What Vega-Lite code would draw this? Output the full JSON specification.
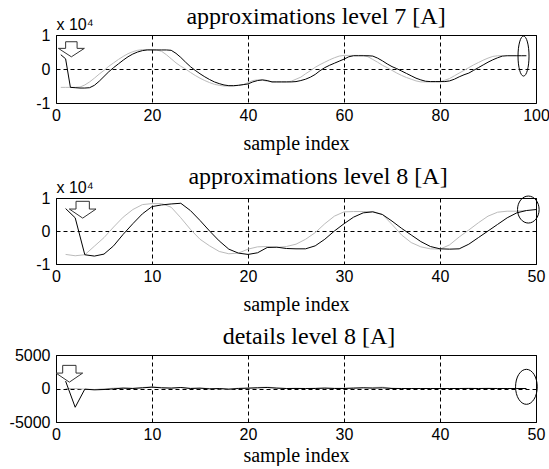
{
  "$schema": "https://vega.github.io/schema/vega-lite/v6.json",
  "background": "white",
  "autosize": {"type": "pad"},
  "padding": {"left": 8, "top": 4, "right": 0, "bottom": 0},
  "bounds": "flush",
  "spacing": 95,
  "config": {
    "view": {"stroke": "black", "strokeWidth": 1},
    "axis": {"domain": false, "ticks": false, "grid": true, "gridColor": "black", "gridDash": [4, 3], "gridOpacity": 1, "gridWidth": 1,
      "labelFont": "Liberation Sans", "labelFontSize": 16, "labelColor": "black",
      "titleFont": "Liberation Serif", "titleFontSize": 20, "titleFontWeight": "normal", "titleColor": "black"},
    "axisX": {"labelFlush": false, "labelPadding": 4, "titlePadding": 10},
    "axisY": {"labelPadding": 6, "titleAngle": 0, "titleAlign": "left", "titleBaseline": "bottom", "titleX": 0, "titleY": -3, "titleFont": "Liberation Sans", "titleFontSize": 16},
    "title": {"font": "Liberation Serif", "fontSize": 24, "fontWeight": "normal", "color": "black", "anchor": "middle"}
  },
  "datasets": {
    "p1_black": [
      {"s":1,"v":4200},{"s":2,"v":3000},{"s":3,"v":-5400},{"s":4,"v":-5500},{"s":5,"v":-5600},{"s":6,"v":-5600},{"s":7,"v":-5500},{"s":8,"v":-4800},{"s":9,"v":-3600},{"s":10,"v":-2200},
      {"s":11,"v":-800},{"s":12,"v":400},{"s":13,"v":1500},{"s":14,"v":2600},{"s":15,"v":3600},{"s":16,"v":4400},{"s":17,"v":5000},{"s":18,"v":5400},{"s":19,"v":5600},{"s":20,"v":5600},
      {"s":21,"v":5600},{"s":22,"v":5600},{"s":23,"v":5600},{"s":24,"v":5500},{"s":25,"v":4600},{"s":26,"v":3400},{"s":27,"v":2000},{"s":28,"v":700},{"s":29,"v":-400},{"s":30,"v":-1400},
      {"s":31,"v":-2300},{"s":32,"v":-3100},{"s":33,"v":-3800},{"s":34,"v":-4300},{"s":35,"v":-4700},{"s":36,"v":-4900},{"s":37,"v":-4900},{"s":38,"v":-4800},{"s":39,"v":-4600},{"s":40,"v":-4400},
      {"s":41,"v":-3800},{"s":42,"v":-3400},{"s":43,"v":-3200},{"s":44,"v":-3400},{"s":45,"v":-3800},{"s":46,"v":-3800},{"s":47,"v":-3800},{"s":48,"v":-3800},{"s":49,"v":-3800},{"s":50,"v":-3700},
      {"s":51,"v":-3400},{"s":52,"v":-3000},{"s":53,"v":-2400},{"s":54,"v":-1600},{"s":55,"v":-500},{"s":56,"v":400},{"s":57,"v":1100},{"s":58,"v":1700},{"s":59,"v":2300},{"s":60,"v":2900},
      {"s":61,"v":3600},{"s":62,"v":3900},{"s":63,"v":3900},{"s":64,"v":3900},{"s":65,"v":3900},{"s":66,"v":3800},{"s":67,"v":3200},{"s":68,"v":2400},{"s":69,"v":1500},{"s":70,"v":700},
      {"s":71,"v":100},{"s":72,"v":-600},{"s":73,"v":-1300},{"s":74,"v":-2000},{"s":75,"v":-2700},{"s":76,"v":-3200},{"s":77,"v":-3600},{"s":78,"v":-3700},{"s":79,"v":-3700},{"s":80,"v":-3700},
      {"s":81,"v":-3700},{"s":82,"v":-3500},{"s":83,"v":-3000},{"s":84,"v":-2300},{"s":85,"v":-1700},{"s":86,"v":-1200},{"s":87,"v":-400},{"s":88,"v":400},{"s":89,"v":1200},{"s":90,"v":2000},
      {"s":91,"v":2700},{"s":92,"v":3300},{"s":93,"v":3800},{"s":94,"v":3900},{"s":95,"v":3900},{"s":96,"v":3900},{"s":97,"v":3900},{"s":98,"v":3900}
    ],
    "p1_gray": [
      {"s":1,"v":-5400},{"s":2,"v":-5400},{"s":3,"v":-5400},{"s":4,"v":-5400},{"s":5,"v":-5300},{"s":6,"v":-4700},{"s":7,"v":-3800},{"s":8,"v":-2700},{"s":9,"v":-1500},{"s":10,"v":-400},
      {"s":11,"v":800},{"s":12,"v":1800},{"s":13,"v":2800},{"s":14,"v":3700},{"s":15,"v":4500},{"s":16,"v":5100},{"s":17,"v":5500},{"s":18,"v":5700},{"s":19,"v":5700},{"s":20,"v":5700},
      {"s":21,"v":5600},{"s":22,"v":5200},{"s":23,"v":4200},{"s":24,"v":3000},{"s":25,"v":1800},{"s":26,"v":800},{"s":27,"v":0},{"s":28,"v":-1000},{"s":29,"v":-1900},{"s":30,"v":-2700},
      {"s":31,"v":-3400},{"s":32,"v":-4000},{"s":33,"v":-4500},{"s":34,"v":-4800},{"s":35,"v":-5000},{"s":36,"v":-5000},{"s":37,"v":-5000},{"s":38,"v":-4800},{"s":39,"v":-4600},{"s":40,"v":-4000},
      {"s":41,"v":-3400},{"s":42,"v":-3200},{"s":43,"v":-3300},{"s":44,"v":-3600},{"s":45,"v":-3800},{"s":46,"v":-3800},{"s":47,"v":-3800},{"s":48,"v":-3800},{"s":49,"v":-3600},{"s":50,"v":-3000},
      {"s":51,"v":-2400},{"s":52,"v":-1400},{"s":53,"v":-500},{"s":54,"v":500},{"s":55,"v":1300},{"s":56,"v":2000},{"s":57,"v":2700},{"s":58,"v":3300},{"s":59,"v":3800},{"s":60,"v":4000},
      {"s":61,"v":4000},{"s":62,"v":4000},{"s":63,"v":4000},{"s":64,"v":4000},{"s":65,"v":3600},{"s":66,"v":2800},{"s":67,"v":2000},{"s":68,"v":1100},{"s":69,"v":400},{"s":70,"v":-400},
      {"s":71,"v":-1200},{"s":72,"v":-1900},{"s":73,"v":-2500},{"s":74,"v":-3000},{"s":75,"v":-3500},{"s":76,"v":-3800},{"s":77,"v":-3800},{"s":78,"v":-3800},{"s":79,"v":-3800},{"s":80,"v":-3800},
      {"s":81,"v":-3300},{"s":82,"v":-2800},{"s":83,"v":-2000},{"s":84,"v":-1200},{"s":85,"v":-400},{"s":86,"v":400},{"s":87,"v":1200},{"s":88,"v":1900},{"s":89,"v":2600},{"s":90,"v":3200},
      {"s":91,"v":3700},{"s":92,"v":3900},{"s":93,"v":3900}
    ],
    "p2_black": [
      {"s":1,"v":6800},{"s":2,"v":4000},{"s":3,"v":-7200},{"s":4,"v":-7600},{"s":5,"v":-7000},{"s":6,"v":-4500},{"s":7,"v":-1000},{"s":8,"v":2200},{"s":9,"v":5200},{"s":10,"v":7400},
      {"s":11,"v":7900},{"s":12,"v":8200},{"s":13,"v":8400},{"s":14,"v":6200},{"s":15,"v":3200},{"s":16,"v":0},{"s":17,"v":-3000},{"s":18,"v":-5500},{"s":19,"v":-6700},{"s":20,"v":-7100},
      {"s":21,"v":-6600},{"s":22,"v":-5000},{"s":23,"v":-4900},{"s":24,"v":-5300},{"s":25,"v":-5400},{"s":26,"v":-5400},{"s":27,"v":-4500},{"s":28,"v":-2500},{"s":29,"v":0},{"s":30,"v":2200},
      {"s":31,"v":4200},{"s":32,"v":5500},{"s":33,"v":5800},{"s":34,"v":5000},{"s":35,"v":3000},{"s":36,"v":800},{"s":37,"v":-1200},{"s":38,"v":-3200},{"s":39,"v":-4700},{"s":40,"v":-5400},
      {"s":41,"v":-5500},{"s":42,"v":-5400},{"s":43,"v":-4000},{"s":44,"v":-2000},{"s":45,"v":0},{"s":46,"v":2000},{"s":47,"v":4000},{"s":48,"v":5500},{"s":49,"v":6200},{"s":50,"v":6500}
    ],
    "p2_gray": [
      {"s":1,"v":-7100},{"s":2,"v":-7500},{"s":3,"v":-7200},{"s":4,"v":-4600},{"s":5,"v":-2000},{"s":6,"v":1200},{"s":7,"v":4200},{"s":8,"v":6500},{"s":9,"v":8000},{"s":10,"v":8300},
      {"s":11,"v":8300},{"s":12,"v":7200},{"s":13,"v":4000},{"s":14,"v":500},{"s":15,"v":-2500},{"s":16,"v":-4500},{"s":17,"v":-6200},{"s":18,"v":-6900},{"s":19,"v":-6700},{"s":20,"v":-5500},
      {"s":21,"v":-4800},{"s":22,"v":-4700},{"s":23,"v":-5000},{"s":24,"v":-4700},{"s":25,"v":-4000},{"s":26,"v":-2500},{"s":27,"v":-500},{"s":28,"v":2200},{"s":29,"v":4500},{"s":30,"v":5800},
      {"s":31,"v":5900},{"s":32,"v":5900},{"s":33,"v":5900},{"s":34,"v":5000},{"s":35,"v":2000},{"s":36,"v":-1200},{"s":37,"v":-3500},{"s":38,"v":-4800},{"s":39,"v":-5400},{"s":40,"v":-5500},
      {"s":41,"v":-4200},{"s":42,"v":-1800},{"s":43,"v":300},{"s":44,"v":2500},{"s":45,"v":4500},{"s":46,"v":5700},{"s":47,"v":6000},{"s":48,"v":6000},{"s":49,"v":6200}
    ],
    "p3_black": [
      {"s":1,"v":1100},{"s":2,"v":-2800},{"s":3,"v":-100},{"s":4,"v":-200},{"s":5,"v":-150},{"s":6,"v":-50},{"s":7,"v":50},{"s":8,"v":0},{"s":9,"v":100},{"s":10,"v":200},
      {"s":11,"v":100},{"s":12,"v":50},{"s":13,"v":150},{"s":14,"v":0},{"s":15,"v":50},{"s":16,"v":-50},{"s":17,"v":0},{"s":18,"v":-100},{"s":19,"v":0},{"s":20,"v":50},
      {"s":21,"v":100},{"s":22,"v":150},{"s":23,"v":50},{"s":24,"v":0},{"s":25,"v":0},{"s":26,"v":0},{"s":27,"v":0},{"s":28,"v":50},{"s":29,"v":0},{"s":30,"v":0},
      {"s":31,"v":50},{"s":32,"v":100},{"s":33,"v":50},{"s":34,"v":100},{"s":35,"v":0},{"s":36,"v":0},{"s":37,"v":0},{"s":38,"v":0},{"s":39,"v":0},{"s":40,"v":0},
      {"s":41,"v":0},{"s":42,"v":0},{"s":43,"v":0},{"s":44,"v":0},{"s":45,"v":0},{"s":46,"v":0},{"s":47,"v":0},{"s":48,"v":0},{"s":49,"v":0}
    ],
    "p3_gray": [
      {"s":1,"v":0},{"s":2,"v":0},{"s":3,"v":-100},{"s":4,"v":-150},{"s":5,"v":-50},{"s":6,"v":50},{"s":7,"v":100},{"s":8,"v":50},{"s":9,"v":150},{"s":10,"v":250},
      {"s":11,"v":150},{"s":12,"v":100},{"s":13,"v":150},{"s":14,"v":50},{"s":15,"v":50},{"s":16,"v":0},{"s":17,"v":-50},{"s":18,"v":-100},{"s":19,"v":50},{"s":20,"v":50},
      {"s":21,"v":150},{"s":22,"v":200},{"s":23,"v":100},{"s":24,"v":0},{"s":25,"v":50},{"s":26,"v":0},{"s":27,"v":50},{"s":28,"v":100},{"s":29,"v":50},{"s":30,"v":50},
      {"s":31,"v":100},{"s":32,"v":150},{"s":33,"v":150},{"s":34,"v":200},{"s":35,"v":50},{"s":36,"v":0},{"s":37,"v":0},{"s":38,"v":0},{"s":39,"v":0},{"s":40,"v":0},
      {"s":41,"v":0},{"s":42,"v":0},{"s":43,"v":50},{"s":44,"v":0},{"s":45,"v":50},{"s":46,"v":0},{"s":47,"v":0},{"s":48,"v":0},{"s":49,"v":0}
    ]
  },
  "vconcat": [
    {
      "width": 480, "height": 68,
      "title": {"text": "approximations level 7 [A]", "dx": 20, "offset": -13},
      "encoding": {
        "x": {"field": "s", "type": "quantitative", "scale": {"domain": [0, 100], "nice": false, "zero": false},
          "axis": {"values": [0, 20, 40, 60, 80, 100], "title": "sample index"}},
        "y": {"field": "v", "type": "quantitative", "scale": {"domain": [-10000, 10000], "nice": false},
          "axis": {"values": [-10000, 0, 10000], "labelExpr": "'' + (datum.value / 10000)", "title": "x 10⁴"}}
      },
      "layer": [
        {"data": {"name": "p1_gray"}, "mark": {"type": "line", "color": "#bbbbbb", "strokeWidth": 1}},
        {"data": {"name": "p1_black"}, "mark": {"type": "line", "color": "#000000", "strokeWidth": 1}},
        {"data": {"values": [{"s": 97.4, "v": 3800}]},
          "mark": {"type": "point", "shape": "M0,-1A0.275,1,0,1,1,0,1A0.275,1,0,1,1,0,-1Z", "size": 1600, "filled": false, "stroke": "black", "strokeWidth": 1, "opacity": 1}},
        {"data": {"values": [{"s": 3.2, "v": 5800}]},
          "mark": {"type": "point", "shape": "M-0.44,-0.58L0.44,-0.58L0.44,-0.07L1,-0.07L0,0.58L-1,-0.07L-0.44,-0.07Z", "size": 676, "filled": true, "fill": "white", "fillOpacity": 1, "stroke": "#333333", "strokeWidth": 1, "opacity": 1}}
      ]
    },
    {
      "spacing": 91,
      "bounds": "flush",
      "vconcat": [
        {
          "width": 480, "height": 66,
          "title": {"text": "approximations level 8 [A]", "dx": 22, "offset": -10},
          "encoding": {
            "x": {"field": "s", "type": "quantitative", "scale": {"domain": [0, 50], "nice": false, "zero": false},
              "axis": {"values": [0, 10, 20, 30, 40, 50], "title": "sample index"}},
            "y": {"field": "v", "type": "quantitative", "scale": {"domain": [-10000, 10000], "nice": false},
              "axis": {"values": [-10000, 0, 10000], "labelExpr": "'' + (datum.value / 10000)", "title": "x 10⁴"}}
          },
          "layer": [
            {"data": {"name": "p2_gray"}, "mark": {"type": "line", "color": "#bbbbbb", "strokeWidth": 1}},
            {"data": {"name": "p2_black"}, "mark": {"type": "line", "color": "#000000", "strokeWidth": 1}},
            {"data": {"values": [{"s": 49.2, "v": 6500}]},
              "mark": {"type": "point", "shape": "M0,-1A0.8,1,0,1,1,0,1A0.8,1,0,1,1,0,-1Z", "size": 729, "filled": false, "stroke": "black", "strokeWidth": 1, "opacity": 1}},
            {"data": {"values": [{"s": 2.78, "v": 6450}]},
              "mark": {"type": "point", "shape": "M-0.5,-0.63L0.5,-0.63L0.5,-0.05L1,-0.05L0,0.63L-1,-0.05L-0.5,-0.05Z", "size": 711, "filled": true, "fill": "white", "fillOpacity": 1, "stroke": "#333333", "strokeWidth": 1, "opacity": 1}}
          ]
        },
        {
          "width": 480, "height": 67,
          "title": {"text": "details level 8 [A]", "dx": 13, "offset": -2},
          "encoding": {
            "x": {"field": "s", "type": "quantitative", "scale": {"domain": [0, 50], "nice": false, "zero": false},
              "axis": {"values": [0, 10, 20, 30, 40, 50], "title": "sample index", "titlePadding": 3}},
            "y": {"field": "v", "type": "quantitative", "scale": {"domain": [-5000, 5000], "nice": false},
              "axis": {"values": [-5000, 0, 5000], "labelExpr": "'' + datum.value", "title": null}}
          },
          "layer": [
            {"data": {"name": "p3_gray"}, "mark": {"type": "line", "color": "#bbbbbb", "strokeWidth": 1}},
            {"data": {"name": "p3_black"}, "mark": {"type": "line", "color": "#000000", "strokeWidth": 1}},
            {"data": {"values": [{"s": 49.0, "v": 250}]},
              "mark": {"type": "point", "shape": "M0,-1A0.62,1,0,1,1,0,1A0.62,1,0,1,1,0,-1Z", "size": 1225, "filled": false, "stroke": "black", "strokeWidth": 1, "opacity": 1}},
            {"data": {"values": [{"s": 1.39, "v": 2200}]},
              "mark": {"type": "point", "shape": "M-0.5,-0.63L0.5,-0.63L0.5,-0.05L1,-0.05L0,0.63L-1,-0.05L-0.5,-0.05Z", "size": 711, "filled": true, "fill": "white", "fillOpacity": 1, "stroke": "#333333", "strokeWidth": 1, "opacity": 1}}
          ]
        }
      ]
    }
  ]
}
